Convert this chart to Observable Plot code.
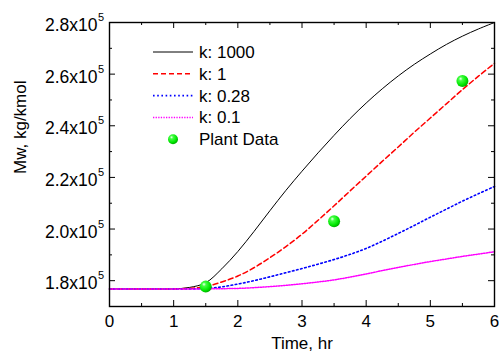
<!DOCTYPE html>
<html>
<head>
<meta charset="utf-8">
<script src="https://cdn.jsdelivr.net/npm/d3@7"></script>
<script src="https://cdn.jsdelivr.net/npm/@observablehq/plot@0.6"></script>
<style>
  html, body { margin: 0; padding: 0; background: #fff; }
  #chart { width: 499px; height: 356px; }
</style>
</head>
<body>
<div id="chart"></div>
<script>
// ---- data (Mw in kg/kmol, time in hr) ----
const time = [0, 0.25, 0.5, 0.75, 1.0, 1.25, 1.5, 1.75, 2.0, 2.25, 2.5, 2.75, 3.0,
              3.25, 3.5, 3.75, 4.0, 4.25, 4.5, 4.75, 5.0, 5.25, 5.5, 5.75, 6.0];
const k1000 = [1.768, 1.768, 1.768, 1.768, 1.768, 1.774, 1.792, 1.846, 1.913, 1.990, 2.071, 2.150, 2.224,
               2.295, 2.363, 2.428, 2.488, 2.543, 2.593, 2.638, 2.678, 2.715, 2.747, 2.775, 2.800];
const k1 =    [1.768, 1.768, 1.768, 1.768, 1.768, 1.770, 1.777, 1.795, 1.818, 1.850, 1.889, 1.932, 1.980,
               2.034, 2.090, 2.148, 2.205, 2.262, 2.318, 2.375, 2.430, 2.485, 2.540, 2.592, 2.642];
const k028 =  [1.768, 1.768, 1.768, 1.768, 1.768, 1.768, 1.770, 1.776, 1.787, 1.800, 1.815, 1.831, 1.847,
               1.864, 1.882, 1.902, 1.925, 1.953, 1.983, 2.014, 2.046, 2.077, 2.108, 2.137, 2.165];
const k01 =   [1.768, 1.768, 1.768, 1.768, 1.768, 1.768, 1.768, 1.769, 1.770, 1.773, 1.777, 1.782, 1.788,
               1.795, 1.803, 1.814, 1.826, 1.839, 1.851, 1.863, 1.874, 1.884, 1.894, 1.903, 1.912];
const plantTime = [1.5, 3.5, 5.5];
const plantMw = [1.777, 2.030, 2.573];
const scaleFactor = 1e5;

const seriesNames = ["k: 1000", "k: 1", "k: 0.28", "k: 0.1"];
const seriesValues = [k1000, k1, k028, k01];
const seriesColors = ["#000000", "#ff0000", "#0000ff", "#ff00ff"];
const seriesDash = [null, "5,3", "1.6,2.6", "1.3,1.3"];
const seriesWidth = [1, 1.5, 1.6, 1.5];
const plantLabel = "Plant Data";

const xMajor = [0, 1, 2, 3, 4, 5, 6];
const xMinor = [0.5, 1.5, 2.5, 3.5, 4.5, 5.5];
const yMajor = [1.8, 2.0, 2.2, 2.4, 2.6, 2.8].map(v => v * scaleFactor);
const yMinor = [1.7, 1.9, 2.1, 2.3, 2.5, 2.7].map(v => v * scaleFactor);
const xTitle = "Time, hr";
const yTitle = "Mw, kg/kmol";

// ---- build tables ----
const curves = seriesNames.map((name, i) => ({
  name, color: seriesColors[i], dash: seriesDash[i], width: seriesWidth[i],
  pts: time.map((t, j) => ({t, mw: seriesValues[i][j] * scaleFactor}))
}));
const plant = plantTime.map((t, i) => ({t, mw: plantMw[i] * scaleFactor}));

const W = 499, H = 356;
const mL = 109, mR = 5, mT = 22, mB = 50;
const innerH = H - mT - mB;
const innerW = W - mL - mR;
const major = 6, minor = 3;

const marks = [];
curves.forEach(c => {
  marks.push(Plot.line(c.pts, {x: "t", y: "mw", stroke: c.color, strokeWidth: c.width,
    strokeDasharray: c.dash, curve: "catmull-rom"}));
});
marks.push(Plot.dot(plant, {x: "t", y: "mw", r: 6, fill: "url(#sphere)", stroke: "none"}));

// inward ticks on all four sides
marks.push(Plot.ruleX(xMajor, {x: d => d, insetTop: innerH - major, stroke: "black", strokeWidth: 1}));
marks.push(Plot.ruleX(xMinor, {x: d => d, insetTop: innerH - minor, stroke: "black", strokeWidth: 1}));
marks.push(Plot.ruleX(xMajor, {x: d => d, insetBottom: innerH - major, stroke: "black", strokeWidth: 1}));
marks.push(Plot.ruleX(xMinor, {x: d => d, insetBottom: innerH - minor, stroke: "black", strokeWidth: 1}));
marks.push(Plot.ruleY(yMajor, {y: d => d, insetRight: innerW - major, stroke: "black", strokeWidth: 1}));
marks.push(Plot.ruleY(yMinor, {y: d => d, insetRight: innerW - minor, stroke: "black", strokeWidth: 1}));
marks.push(Plot.ruleY(yMajor, {y: d => d, insetLeft: innerW - major, stroke: "black", strokeWidth: 1}));
marks.push(Plot.ruleY(yMinor, {y: d => d, insetLeft: innerW - minor, stroke: "black", strokeWidth: 1}));

marks.push(Plot.frame({stroke: "black", strokeWidth: 1.4}));

// axes labels
marks.push(Plot.axisX({ticks: xMajor, tickSize: 0, tickPadding: 8, tickFormat: d => String(d),
  label: null, fontSize: 17}));
marks.push(Plot.axisY({ticks: yMajor, tickSize: 0, tickPadding: 12,
  tickFormat: d => (d / scaleFactor).toFixed(1) + "x10", label: null, dy: 3, fontSize: 17.5}));
marks.push(Plot.text(yMajor, {y: d => d, frameAnchor: "left", text: () => "5", dx: -11.5, dy: -5,
  textAnchor: "start", fontSize: 11, fill: "black"}));
marks.push(Plot.text([xTitle], {frameAnchor: "bottom", text: d => d, dy: 42.6, fontSize: 17, fill: "black"}));
marks.push(Plot.text([yTitle], {frameAnchor: "left", text: d => d, rotate: -90, dx: -89, dy: 9.5,
  fontSize: 17, fill: "black"}));

const svg = Plot.plot({
  width: W, height: H,
  marginLeft: mL, marginRight: mR, marginTop: mT, marginBottom: mB,
  x: {domain: [0, 6], axis: null},
  y: {domain: [1.7e5, 2.8e5], axis: null},
  style: {fontFamily: "'Liberation Sans', Arial, sans-serif", fontSize: "17px", color: "black", background: "white"},
  marks
});

// gradient for the spherical markers
const s = d3.select(svg);
const defs = s.insert("defs", ":first-child");
const grad = defs.append("radialGradient").attr("id", "sphere")
  .attr("cx", "38%").attr("cy", "35%").attr("r", "65%").attr("fx", "35%").attr("fy", "30%");
grad.append("stop").attr("offset", "0%").attr("stop-color", "#f4fff4");
grad.append("stop").attr("offset", "25%").attr("stop-color", "#44ff44");
grad.append("stop").attr("offset", "75%").attr("stop-color", "#00e600");
grad.append("stop").attr("offset", "100%").attr("stop-color", "#00b000");

// legend
const lg = s.append("g").attr("font-family", "'Liberation Sans', Arial, sans-serif")
  .attr("font-size", 17).attr("text-anchor", "start");
const lx0 = 153, lx1 = 193, tx = 199, ly0 = 52, lstep = 21.8;
curves.forEach((c, i) => {
  const y = ly0 + i * lstep;
  lg.append("line").attr("x1", lx0).attr("x2", lx1).attr("y1", y).attr("y2", y)
    .attr("stroke", c.color).attr("stroke-width", c.width)
    .attr("stroke-dasharray", c.dash);
  lg.append("text").attr("x", tx).attr("y", y).attr("dy", "0.35em").attr("fill", "black")
    .attr("text-anchor", "start").text(c.name);
});
{
  const y = ly0 + 4 * lstep;
  lg.append("circle").attr("cx", (lx0 + lx1) / 2).attr("cy", y).attr("r", 5).attr("fill", "url(#sphere)");
  lg.append("text").attr("x", tx).attr("y", y).attr("dy", "0.35em").attr("fill", "black")
    .attr("text-anchor", "start").text(plantLabel);
}

document.getElementById("chart").appendChild(svg);
</script>
</body>
</html>
